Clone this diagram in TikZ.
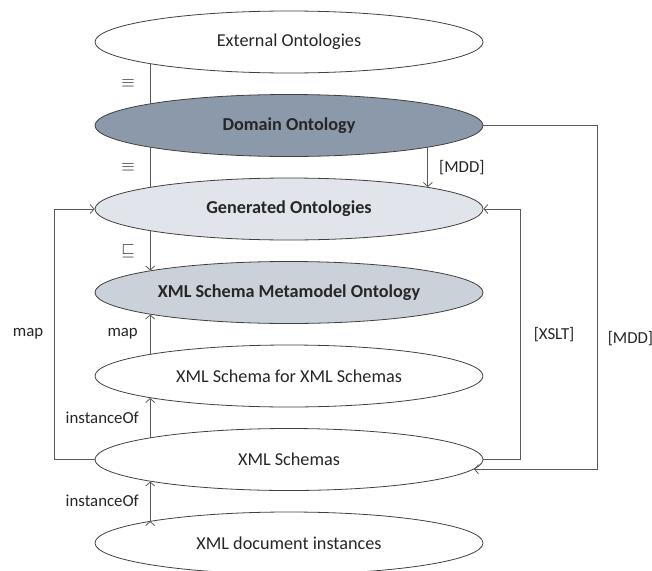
\documentclass[tikz,border=0pt]{standalone}
\usepackage{fontspec}
\setmainfont{Carlito}
\usetikzlibrary{shapes.geometric, arrows.meta, positioning}
\definecolor{domfill}{RGB}{140,153,170}
\definecolor{genfill}{RGB}{225,228,234}
\definecolor{metafill}{RGB}{203,209,217}
\tikzset{node distance = 83.5pt, on grid,
	 >= {Straight Barb[length = 4pt, width = 9pt]},
	 onto/.style = {ellipse, draw = black!75, line width = 0.8pt,
			minimum width = 388pt, minimum height = 62pt,
			inner sep = 0pt, text = black!85,
			font = \fontsize{18.2}{21}\selectfont},
	 link/.style = {draw = black!65, line width = 0.8pt},
	 lbl/.style = {text = black!85, inner sep = 1pt,
		       font = \fontsize{16.8}{20}\selectfont}}

\begin{document}
\begin{tikzpicture}[x = 1pt, y = -1pt]
      \useasboundingbox (0,0) rectangle (652,570);
      \node [onto] (ext) at (289,42) {External Ontologies};
      \node [onto, fill = domfill] (dom) [below = of ext] {\textbf{Domain Ontology}};
      \node [onto, fill = genfill] (gen) [below = of dom] {\textbf{Generated Ontologies}};
      \node [onto, fill = metafill] (meta) [below = of gen] {\textbf{XML Schema Metamodel Ontology}};
      \node [onto] (sfs) [below = of meta] {XML Schema for XML Schemas};
      \node [onto] (xs) [below = of sfs] {XML Schemas};
      \node [onto] (doc) [below = of xs] {XML document instances};
      \path[link] (ext.189) edge node [lbl, anchor = east, xshift = -14pt] {$\equiv$} (dom.171)
		  (dom.189) edge node [lbl, anchor = east, xshift = -14pt] {$\equiv$} (gen.171);
      \path[link, ->] (gen.189) edge node [lbl, anchor = east, xshift = -14pt] {$\sqsubseteq$} (meta.171)
		      (dom.351) edge node [lbl, anchor = west, xshift = 10pt] {[MDD]} (gen.9)
		      (sfs.171) edge node [lbl, anchor = east, xshift = -11pt] {map} (meta.189)
		      (xs.171) edge node [lbl, anchor = east, xshift = -10pt] {instanceOf} (sfs.189)
		      (doc.171) edge node [lbl, anchor = east, xshift = -10pt] {instanceOf} (xs.189);
      \draw[link, ->] (xs.west) -- ++(-40,0) |- node [lbl, pos = 0.25, anchor = east, xshift = -10pt] {map} (gen.west);
      \draw[link, ->] (xs.east) -- ++(37,0) |- node [lbl, pos = 0.25, anchor = west, xshift = 12pt] {[XSLT]} (gen.east);
      \draw[link, ->] (dom.east) -- ++(114,0) |- node [lbl, pos = 0.31, anchor = west, xshift = 9pt] {[MDD]} (xs.357);
    \end{tikzpicture}
\end{document}
